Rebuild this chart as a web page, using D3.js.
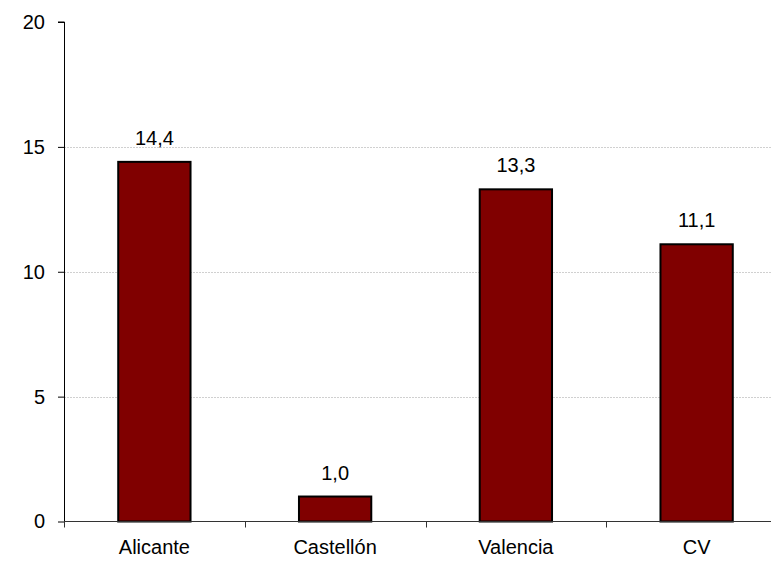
<!DOCTYPE html>
<html><head><meta charset="utf-8">
<script src="https://cdn.jsdelivr.net/npm/d3@7"></script>
<style>body{margin:0;background:#fff;}svg{display:block;}</style>
</head><body>
<svg id="c" width="771" height="561"></svg>
<script>
const categories = ["Alicante", "Castellón", "Valencia", "CV"];
const values = [14.4, 1.0, 13.3, 11.1];
const yTicks = [0, 5, 10, 15, 20];
const gridTicks = [5, 10, 15];

const svg = d3.select("#c");
const font = "'Liberation Sans', Arial, sans-serif";
const fs = "20px";
const x0 = 64, x1 = 787, yTop = 22, yBot = 521.5;

const x = d3.scaleBand().domain(categories).range([x0, x1]).paddingInner(0.6).paddingOuter(0.3);
const y = d3.scaleLinear().domain([0, 20]).range([yBot, yTop]);

// gridlines
svg.append("g").selectAll("line").data(gridTicks).join("line")
  .attr("x1", x0).attr("x2", 771)
  .attr("y1", d => Math.round(y(d)) + 0.5).attr("y2", d => Math.round(y(d)) + 0.5)
  .attr("stroke", "#d0d0d0").attr("stroke-width", 1).attr("stroke-dasharray", "2,1");

// bars
svg.append("g").selectAll("rect").data(values).join("rect")
  .attr("x", (d, i) => x(categories[i]))
  .attr("width", x.bandwidth())
  .attr("y", d => y(d))
  .attr("height", d => yBot - y(d))
  .attr("fill", "#800000").attr("stroke", "#000").attr("stroke-width", 2);

// value labels
svg.append("g").selectAll("text").data(values).join("text")
  .attr("x", (d, i) => x(categories[i]) + x.bandwidth() / 2)
  .attr("y", d => y(d) - 17)
  .attr("text-anchor", "middle")
  .attr("font-family", font).attr("font-size", fs).attr("fill", "#000")
  .text(d => d.toFixed(1).replace(".", ","));

// y axis
const yAxis = d3.axisLeft(y).tickValues(yTicks).tickSize(6).tickPadding(13).tickFormat(d => d);
const gy = svg.append("g").attr("transform", `translate(${x0},0)`).call(yAxis);
gy.select(".domain").attr("stroke", "#000").attr("d", `M-6,${yTop}H0.5V${yBot + 5}`);
gy.selectAll(".tick line").attr("stroke", "#000");
gy.selectAll("text").attr("font-family", font).attr("font-size", fs).attr("fill", "#000");

// x axis
const step = x.step();
const boundaries = d3.range(categories.length + 1).map(i => x0 + i * step);
const gx = svg.append("g");
gx.append("line").attr("x1", x0).attr("x2", 771).attr("y1", yBot).attr("y2", yBot)
  .attr("stroke", "#333").attr("stroke-width", 1);
gx.selectAll("line.t").data(boundaries).join("line").attr("class", "t")
  .attr("x1", d => Math.round(d) + 0.5).attr("x2", d => Math.round(d) + 0.5)
  .attr("y1", yBot).attr("y2", yBot + 6).attr("stroke", "#333");
gx.selectAll("text").data(categories).join("text")
  .attr("x", d => x(d) + x.bandwidth() / 2)
  .attr("y", yBot + 32)
  .attr("text-anchor", "middle")
  .attr("font-family", font).attr("font-size", fs).attr("fill", "#000")
  .text(d => d);
</script>
</body></html>
